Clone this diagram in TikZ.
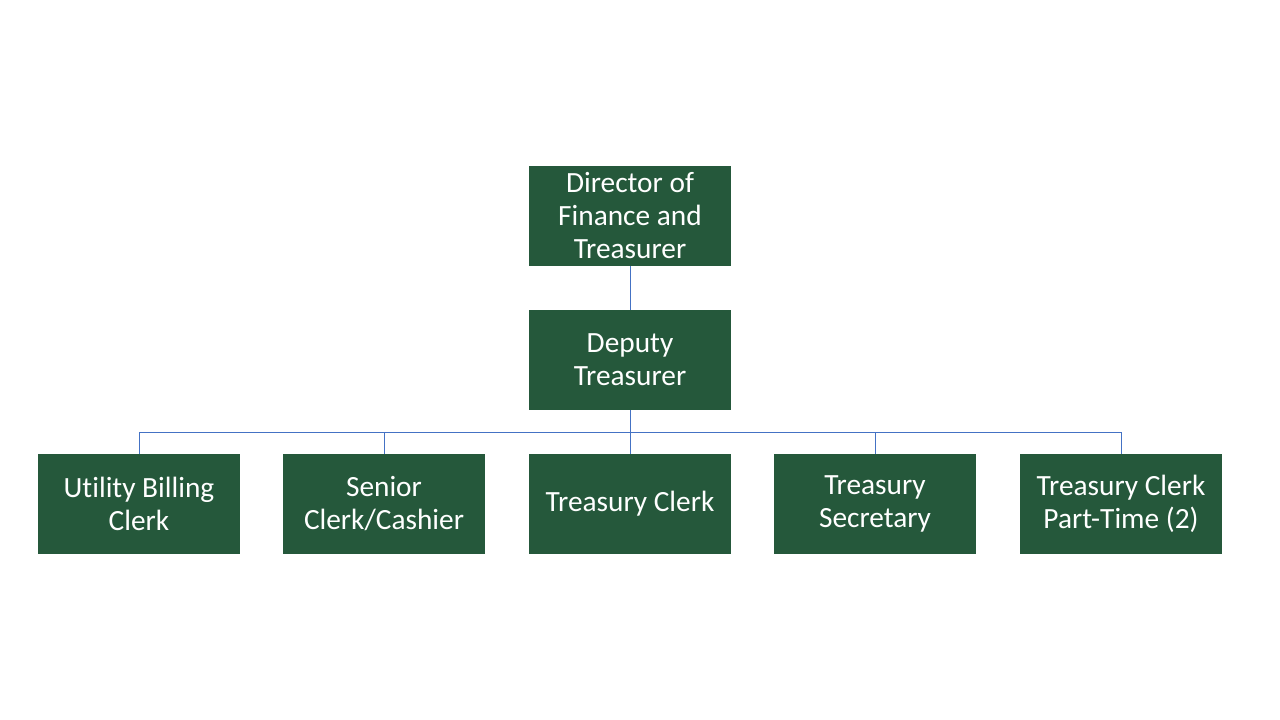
\documentclass[tikz,border=0pt]{standalone}
\usepackage{fontspec}
\setmainfont{Carlito}[Ligatures=NoCommon]
\usepackage{tikz,xcolor}
\definecolor{boxgreen}{RGB}{37,88,59}
\definecolor{linkblue}{RGB}{68,114,196}
\tikzset{
  post/.style={fill=boxgreen, draw=none, text=white, minimum width=151.5pt, minimum height=75pt,
    inner sep=0pt, align=center, font=\fontsize{22}{24.75}\selectfont},
  link/.style={draw=linkblue, line width=0.75pt}
}

\begin{document}
\begin{tikzpicture}[x=0.75pt,y=0.75pt,yscale=-1,xscale=1]
%set diagram size to 1280 x 720
\path[fill=white] (0,0) rectangle (1280,720);

% Top boxes
\node [post] (director) at (630,216) {Director of\\Finance and\\Treasurer};
\node [post] (deputy) at (630,360) {Deputy\\Treasurer};

% Staff row
\node [post] (billing) at (139,504) {Utility Billing\\Clerk};
\node [post] (cashier) at (384,504) {Senior\\Clerk/Cashier};
\node [post] (clerk) at (630,504) {Treasury Clerk};
\node [post] (secretary) at (875,504) {Treasury\\Secretary};
\node [post] (parttime) at (1121,504) {Treasury Clerk\\Part-Time (2)};

% Connectors
\coordinate (bus) at (630,432);
\draw [link] (director.south) -- (deputy.north);
\draw [link] (deputy.south) -- (bus);
\draw [link] (bus) -| (billing.north);
\draw [link] (bus) -| (cashier.north);
\draw [link] (bus) -- (clerk.north);
\draw [link] (bus) -| (secretary.north);
\draw [link] (bus) -| (parttime.north);

\end{tikzpicture}
\end{document}
